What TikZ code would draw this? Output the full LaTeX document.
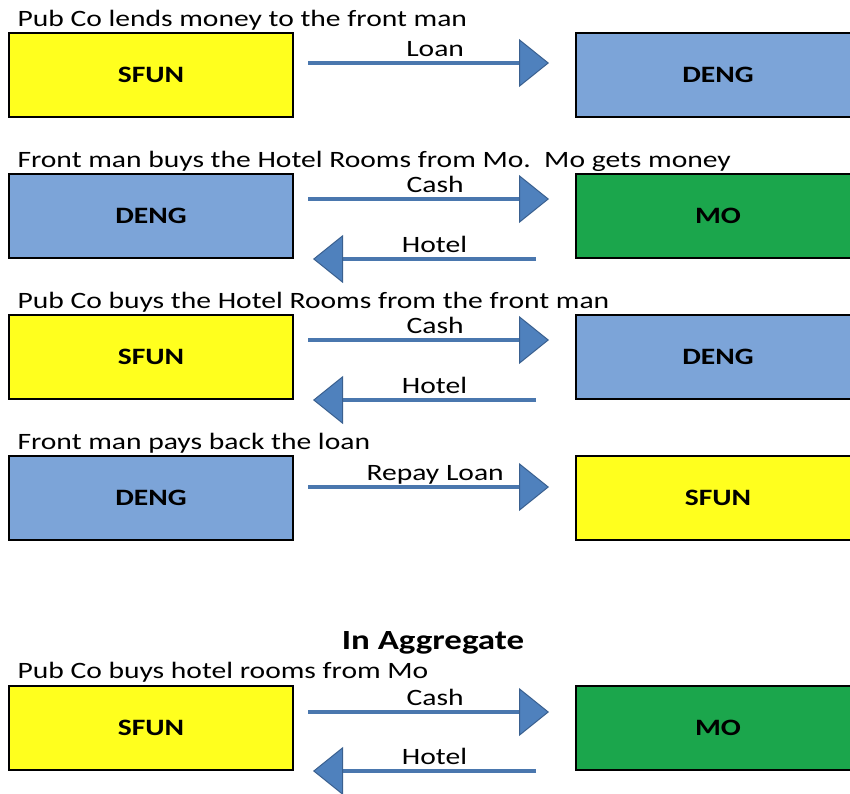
\documentclass[tikz,border=0pt]{standalone}
\usepackage{fontspec}
\setmainfont{Carlito}[FakeStretch=1.26]
\usetikzlibrary{arrows.meta,calc}

\definecolor{sfunyellow}{RGB}{255,255,30}
\definecolor{dengblue}{RGB}{124,164,216}
\definecolor{mogreen}{RGB}{27,166,76}
\definecolor{flowblue}{RGB}{74,119,174}
\definecolor{tipfill}{RGB}{79,129,189}
\definecolor{tipedge}{RGB}{58,96,143}

\tikzset{every picture/.style={line width=0.75pt}}
\tikzset{
  party/.style={draw=black, line width=1.5pt, minimum width=213pt, minimum height=63pt, inner sep=0pt, font=\fontsize{17.6}{20}\selectfont\bfseries},
  sfun/.style={party, fill=sfunyellow},
  deng/.style={party, fill=dengblue},
  mo/.style={party, fill=mogreen},
  flow/.style={draw=flowblue, line width=3pt, -{Triangle[length=22.5pt, width=36pt, line width=0.75pt, color=tipedge, fill=tipfill]}},
  steptitle/.style={anchor=base west, inner sep=0pt, font=\fontsize{17.6}{20}\selectfont},
  flowlabel/.style={anchor=base, inner sep=0pt, yshift=5pt, font=\fontsize{17.6}{20}\selectfont}
}

\begin{document}
\begin{tikzpicture}[x=0.75pt,y=0.75pt,yscale=-1,xscale=1]
\useasboundingbox (0,0) rectangle (850,793);

% Step 1
\node [steptitle] (titleA) at (17,26) {Pub Co lends money to the front man};
\node [sfun] (sfunA) at (151,75) {SFUN};
\node [deng] (dengA) at (718,75) {DENG};
\draw [flow] ($(sfunA.east)+(14,-12)$) -- node [flowlabel, xshift=5pt] {Loan} ($(dengA.west)+(-26,-12)$);

% Step 2
\node [steptitle] (titleB) at (17,167) {Front man buys the Hotel Rooms from Mo.\ \ Mo gets money};
\node [deng] (dengB) at (151,216) {DENG};
\node [mo] (moB) at (718,216) {MO};
\draw [flow] ($(dengB.east)+(14,-17)$) -- node [flowlabel, xshift=5pt] {Cash} ($(moB.west)+(-26,-17)$);
\draw [flow] ($(moB.south west)+(-39,0)$) -- node [flowlabel, xshift=7.5pt] {Hotel} ($(dengB.south east)+(19,0)$);

% Step 3
\node [steptitle] (titleC) at (17,308) {Pub Co buys the Hotel Rooms from the front man};
\node [sfun] (sfunC) at (151,357) {SFUN};
\node [deng] (dengC) at (718,357) {DENG};
\draw [flow] ($(sfunC.east)+(14,-17)$) -- node [flowlabel, xshift=5pt] {Cash} ($(dengC.west)+(-26,-17)$);
\draw [flow] ($(dengC.south west)+(-39,0)$) -- node [flowlabel, xshift=7.5pt] {Hotel} ($(sfunC.south east)+(19,0)$);

% Step 4
\node [steptitle] (titleD) at (17,449) {Front man pays back the loan};
\node [deng] (dengD) at (151,498) {DENG};
\node [sfun] (sfunD) at (718,498) {SFUN};
\draw [flow] ($(dengD.east)+(14,-11)$) -- node [flowlabel, xshift=5pt] {Repay Loan} ($(sfunD.west)+(-26,-11)$);

% Aggregate
\node [anchor=base, inner sep=0pt, font=\fontsize{20.8}{24}\selectfont\bfseries] (aggregate) at (433,649) {In Aggregate};
\node [steptitle] (titleE) at (17,678) {Pub Co buys hotel rooms from Mo};
\node [sfun] (sfunE) at (151,728) {SFUN};
\node [mo] (moE) at (718,728) {MO};
\draw [flow] ($(sfunE.east)+(14,-16)$) -- node [flowlabel, xshift=5pt] {Cash} ($(moE.west)+(-26,-16)$);
\draw [flow] ($(moE.south west)+(-39,0)$) -- node [flowlabel, xshift=7.5pt] {Hotel} ($(sfunE.south east)+(19,0)$);

\end{tikzpicture}
\end{document}
